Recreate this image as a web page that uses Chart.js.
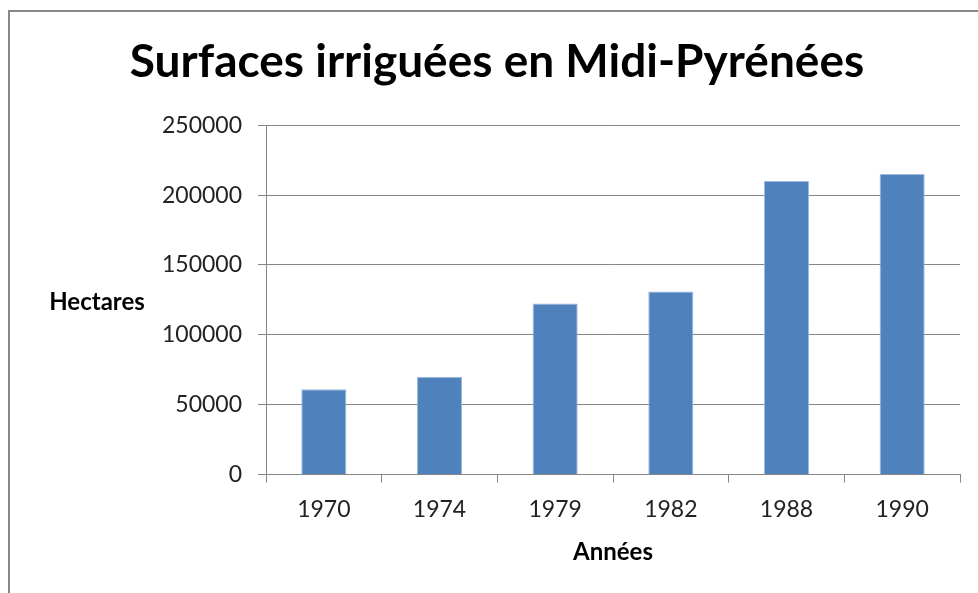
<!DOCTYPE html>
<html>
<head>
<meta charset="utf-8">
<script src="https://cdn.jsdelivr.net/npm/chart.js@4"></script>
<style>
  html, body { margin: 0; padding: 0; background: #fff; overflow: hidden; }
  #frame {
    position: absolute; left: 8px; top: 10px; width: 1000px; height: 700px;
    border: 2px solid #878787; box-sizing: border-box;
  }
  #wrap { position: absolute; left: 0; top: 0; width: 994px; height: 593px; }
</style>
</head>
<body>
<div id="frame"></div>
<div id="wrap"><canvas id="chart"></canvas></div>
<script>
// values
const years = ['1970', '1974', '1979', '1982', '1988', '1990'];
const hectares = [61000, 70000, 122500, 131000, 210000, 215000];

const chartTitle = 'Surfaces irriguées en Midi-Pyrénées';
const yTitle = 'Hectares';
const xTitle = 'Années';

const fontFamily = 'Lato, "Open Sans", sans-serif';
const axisGray = '#868686';

// y axis title is horizontal in the original, so draw it by hand
const hectaresLabel = {
    id: 'hectaresLabel',
    afterDraw(chart) {
        const ctx = chart.ctx;
        const y = chart.scales.y;
        ctx.save();
        ctx.font = 'bold 24px ' + fontFamily;
        ctx.fillStyle = '#000';
        ctx.textAlign = 'center';
        ctx.textBaseline = 'middle';
        ctx.fillText(yTitle, 97, (y.top + y.bottom) / 2 + 2);
        ctx.restore();
    }
};

new Chart(document.getElementById('chart'), {
    type: 'bar',
    data: {
        labels: years,
        datasets: [{
            label: yTitle,
            data: hectares,
            backgroundColor: '#4F81BD',
            borderColor: '#9dbae0',
            borderWidth: 1,
            barPercentage: 0.39,
            categoryPercentage: 1
        }]
    },
    options: {
        responsive: true,
        maintainAspectRatio: false,
        animation: false,
        layout: { padding: { left: 34, right: 34, top: 0, bottom: 26 } },
        plugins: {
            legend: { display: false },
            tooltip: { enabled: false },
            title: {
                display: true,
                text: chartTitle,
                color: '#000',
                font: { family: fontFamily, size: 46, weight: 'bold' },
                padding: { top: 35, bottom: 35 }
            }
        },
        scales: {
            x: {
                grid: {
                    drawOnChartArea: false,
                    color: axisGray,
                    tickLength: 8
                },
                border: { color: axisGray },
                ticks: {
                    color: '#222',
                    padding: 13,
                    font: { family: fontFamily, size: 23 }
                },
                title: {
                    display: true,
                    text: xTitle,
                    color: '#000',
                    font: { family: fontFamily, size: 24, weight: 'bold' },
                    padding: { top: 2, bottom: 0 }
                }
            },
            y: {
                min: 0,
                max: 250000,
                afterFit(scale) { scale.width = 232; },
                grid: {
                    color: axisGray,
                    tickLength: 8
                },
                border: { color: axisGray },
                ticks: {
                    stepSize: 50000,
                    color: '#222',
                    padding: 16,
                    font: { family: fontFamily, size: 23 },
                    callback: value => String(value)
                }
            }
        }
    },
    plugins: [hectaresLabel]
});
</script>
</body>
</html>
